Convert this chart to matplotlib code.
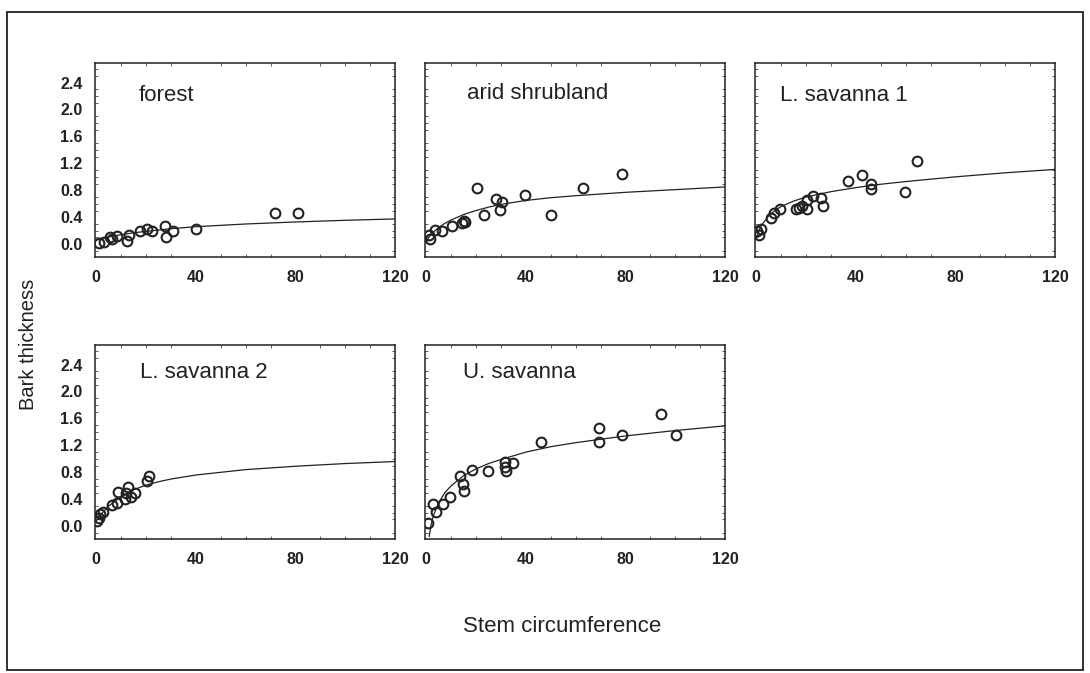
import numpy as np
import matplotlib.pyplot as plt
from matplotlib.patches import Rectangle
from matplotlib.ticker import MultipleLocator

plt.rcParams['font.family'] = ['Liberation Sans', 'DejaVu Sans']

# ---- data ----
forest_x = [1, 3, 5.5, 6.5, 8.5, 12.5, 13, 17.5, 20.5, 22.5, 27.5, 28, 31, 40, 72, 81]
forest_y = [0.02, 0.03, 0.1, 0.08, 0.12, 0.05, 0.14, 0.2, 0.22, 0.2, 0.27, 0.11, 0.2, 0.23, 0.47, 0.47]
forest_fit_x = [0, 1, 2.5, 5, 10, 15, 20, 30, 40, 50, 60, 80, 100, 120]
forest_fit_y = [0.06, 0.07, 0.09, 0.11, 0.14, 0.17, 0.19, 0.23, 0.26, 0.28, 0.3, 0.33, 0.355, 0.375]

arid_x = [1, 1.6, 3.6, 6.3, 10.3, 14.3, 15, 15.6, 20.3, 23.2, 28, 29.6, 30.3, 39.6, 50.3, 63, 78.5]
arid_y = [0.13, 0.08, 0.21, 0.2, 0.27, 0.31, 0.35, 0.33, 0.83, 0.43, 0.67, 0.51, 0.62, 0.73, 0.43, 0.83, 1.04]
arid_fit_x = [0, 1, 2, 3.5, 5, 7.5, 10, 15, 20, 25, 30, 40, 50, 60, 80, 100, 120]
arid_fit_y = [0.03, 0.1, 0.15, 0.2, 0.25, 0.31, 0.36, 0.44, 0.5, 0.55, 0.59, 0.65, 0.69, 0.72, 0.77, 0.81, 0.85]

ls1_x = [0.5, 1, 1.8, 6, 7, 9.6, 15.9, 17, 18.3, 20.3, 20.3, 22.7, 26, 26.9, 36.7, 42.5, 46, 46, 59.7, 64.5]
ls1_y = [0.19, 0.14, 0.22, 0.39, 0.46, 0.53, 0.52, 0.54, 0.56, 0.66, 0.52, 0.72, 0.68, 0.56, 0.94, 1.03, 0.89, 0.82, 0.78, 1.24]
ls1_fit_x = [0, 1, 2.5, 5, 7.5, 10, 15, 20, 25, 30, 40, 50, 60, 80, 100, 120]
ls1_fit_y = [0.08, 0.2, 0.3, 0.42, 0.5, 0.56, 0.64, 0.7, 0.74, 0.78, 0.84, 0.89, 0.93, 1.0, 1.06, 1.11]

ls2_x = [0.5, 1, 1.6, 2.9, 6.2, 8.2, 8.8, 11.5, 12, 12.8, 14.1, 15.4, 20.3, 21.1]
ls2_y = [0.08, 0.12, 0.18, 0.21, 0.32, 0.35, 0.51, 0.4, 0.5, 0.58, 0.43, 0.5, 0.67, 0.75]
ls2_fit_x = [0, 1, 2.5, 5, 7.5, 10, 15, 20, 25, 30, 40, 50, 60, 80, 100, 120]
ls2_fit_y = [0.07, 0.14, 0.2, 0.3, 0.37, 0.44, 0.54, 0.61, 0.66, 0.7, 0.76, 0.8, 0.84, 0.89, 0.93, 0.96]

us_x = [0.9, 2.9, 4, 6.9, 9.6, 13.6, 14.6, 15.3, 18.3, 24.9, 31.6, 31.6, 32, 34.9, 46, 69.3, 69.3, 78.5, 94.3, 100.5]
us_y = [0.05, 0.33, 0.21, 0.33, 0.43, 0.74, 0.63, 0.53, 0.84, 0.82, 0.95, 0.88, 0.82, 0.94, 1.25, 1.46, 1.25, 1.36, 1.67, 1.36]
us_fit_x = [1.2, 2, 3, 5, 7.5, 10, 15, 20, 25, 30, 40, 50, 60, 80, 100, 120]
us_fit_y = [-0.15, 0.03, 0.17, 0.35, 0.5, 0.6, 0.75, 0.85, 0.93, 0.99, 1.1, 1.18, 1.24, 1.34, 1.42, 1.49]

titles = ["forest", "arid shrubland", "L. savanna 1", "L. savanna 2", "U. savanna"]
xticks = [0, 40, 80, 120]
yticks = [0.0, 0.4, 0.8, 1.2, 1.6, 2.0, 2.4]

panels = [
    (forest_x, forest_y, forest_fit_x, forest_fit_y),
    (arid_x, arid_y, arid_fit_x, arid_fit_y),
    (ls1_x, ls1_y, ls1_fit_x, ls1_fit_y),
    (ls2_x, ls2_y, ls2_fit_x, ls2_fit_y),
    (us_x, us_y, us_fit_x, us_fit_y),
]

W, H = 1090, 673
fig = plt.figure(figsize=(W / 100, H / 100), dpi=100)

# outer frame
fig.patches.append(Rectangle((7 / W, 1 - 670 / H), (1083 - 7) / W, (670 - 12) / H,
                             transform=fig.transFigure, fill=False, lw=1.3, ec='#222222'))

lefts = [95, 425, 755]
tops = [63, 345]
pw, ph = 300, 194
slots = [(0, 0), (0, 1), (0, 2), (1, 0), (1, 1)]
# title placement inside each panel (axes fraction)
title_pos = [(0.147, 0.835), (0.14, 0.845), (0.083, 0.835), (0.15, 0.86), (0.126, 0.858)]

for i, (px, py, fx, fy) in enumerate(panels):
    r, c = slots[i]
    ax = fig.add_axes([lefts[c] / W, 1 - (tops[r] + ph) / H, pw / W, ph / H])
    ax.plot(fx, fy, color='#222222', lw=0.9)
    ax.plot(px, py, 'o', mfc='none', mec='#222222', ms=7, mew=1.5)
    ax.set_xlim(-0.5, 120)
    ax.set_ylim(-0.19, 2.69)
    ax.set_xticks(xticks)
    ax.set_yticks(yticks)
    ax.xaxis.set_minor_locator(MultipleLocator(10))
    ax.yaxis.set_minor_locator(MultipleLocator(0.1))
    ax.tick_params(which='both', direction='in', top=True, right=True, color='#444444')
    ax.tick_params(which='major', length=0)
    ax.tick_params(which='minor', length=2.5, width=0.6)
    ax.tick_params(axis='x', pad=9)
    ax.tick_params(axis='y', pad=9)
    for lab in ax.get_xticklabels() + ax.get_yticklabels():
        lab.set_fontweight('bold')
        lab.set_fontsize(11.5)
        lab.set_color('#222222')
    if c != 0:
        ax.set_yticklabels([])
    for s in ax.spines.values():
        s.set_linewidth(1.1)
        s.set_color('#222222')
    tx, ty = title_pos[i]
    ax.text(tx, ty, titles[i], transform=ax.transAxes, fontsize=16,
            color='#222222', va='center', ha='left')

fig.text(28 / W, 1 - 344 / H, "Bark thickness", rotation=90, fontsize=14.5,
         color='#222222', ha='center', va='center')
fig.text(562 / W, 1 - 627 / H, "Stem circumference", fontsize=16,
         color='#222222', ha='center', va='center')

plt.savefig("out.png", dpi=100)
